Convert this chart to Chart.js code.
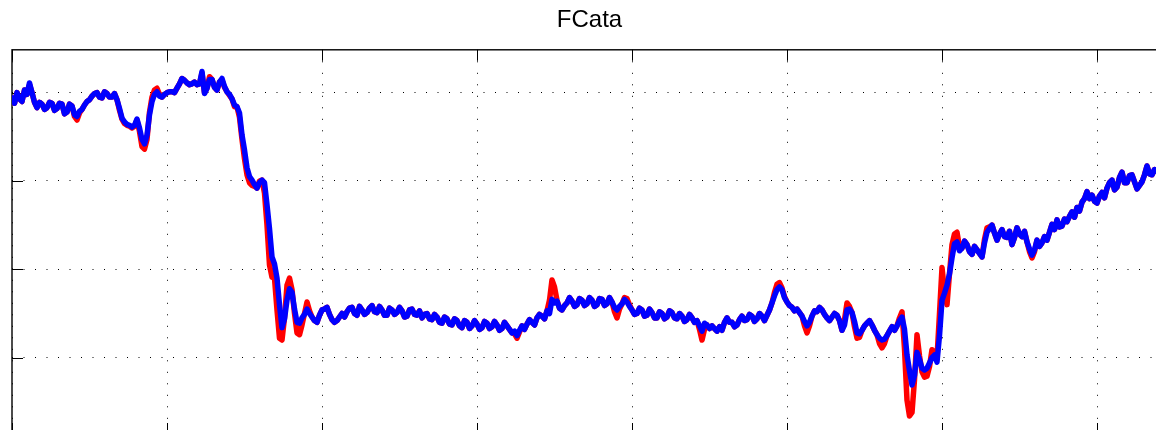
<!DOCTYPE html>
<html>
<head>
<meta charset="utf-8">
<script src="https://cdn.jsdelivr.net/npm/chart.js@4/dist/chart.umd.min.js"></script>
<style>
  html, body { margin: 0; padding: 0; background: #fff; overflow: hidden; width: 1156px; height: 430px; }
  canvas { display: block; }
</style>
</head>
<body>
<canvas id="plot" width="1180" height="440"></canvas>
<script>
// Sample index runs along x; grid every 62 samples.
const xTicks = [0, 62, 124, 186, 248, 310, 372, 434];
const yTicks = [10, 20, 30, 40];
const xRange = [0, 462];
const yRange = [1.36, 44.85];

// Measured signal (red)
const fcataMeasured = [
  39.4,38.8,40.0,39.3,39.0,40.3,39.8,40.9,40.0,38.9,38.3,38.9,38.7,38.1,38.3,38.9,38.8,38.0,38.2,38.8,
  38.7,37.6,37.8,38.7,38.5,37.3,36.9,37.7,38.1,38.6,39.0,39.2,39.6,39.9,40.0,39.5,39.4,40.1,39.9,39.5,
  39.5,39.9,39.2,38.0,37.0,36.5,36.3,36.2,36.0,36.2,36.9,35.6,33.9,33.6,34.7,37.8,39.5,40.3,40.5,39.8,
  39.5,39.8,40.0,40.1,40.1,40.0,40.5,41.0,41.6,41.4,41.1,40.9,41.0,41.2,40.9,41.0,42.2,40.0,40.5,41.8,
  41.5,40.6,40.3,41.2,41.4,40.6,40.1,39.7,39.3,38.4,38.4,37.2,34.7,32.5,30.7,29.8,29.5,29.4,29.2,30.0,
  30.1,28.6,25.0,20.5,19.1,19.0,15.4,12.2,12.0,14.5,18.2,19.0,17.7,15.0,12.8,12.6,13.7,15.0,16.3,15.3,
  14.6,14.2,14.0,14.8,15.4,15.5,15.7,14.9,14.3,14.0,14.2,14.6,15.0,14.6,15.2,15.6,15.7,15.0,14.8,15.8,
  15.4,14.9,15.1,15.6,15.9,15.2,15.1,15.8,15.4,14.8,14.8,15.6,15.4,14.9,15.1,15.7,15.3,14.6,14.7,15.4,
  15.5,14.9,14.8,15.3,14.5,14.9,15.0,14.4,14.3,14.9,14.6,14.0,13.9,14.6,14.4,13.8,13.7,14.4,14.2,13.6,
  13.4,14.2,14.0,13.3,13.6,14.2,13.8,13.2,13.4,14.1,13.9,13.3,13.5,14.1,13.7,13.1,13.3,14.0,13.6,13.2,
  12.8,12.7,12.2,12.9,13.6,13.2,13.8,14.3,14.0,13.7,14.5,14.9,14.7,14.4,15.3,16.5,18.8,18.0,16.5,15.6,
  15.4,15.9,16.2,16.8,16.4,15.8,16.0,16.7,16.5,15.9,16.1,16.8,16.5,15.8,16.0,16.7,16.6,15.9,16.1,16.8,
  16.3,15.2,14.5,15.5,16.1,16.8,16.7,16.0,15.4,14.9,15.0,15.6,15.4,14.7,14.8,15.5,15.1,14.5,14.5,15.2,
  15.0,14.4,14.6,15.3,15.1,14.5,14.4,15.0,14.7,14.1,14.3,14.9,14.5,14.0,14.2,13.2,12.0,13.2,13.7,13.3,
  13.6,13.3,13.0,13.5,13.1,14.0,14.5,14.0,14.0,13.5,13.7,14.3,14.7,14.2,14.3,14.9,14.7,14.1,14.4,15.0,
  14.7,14.2,14.8,15.4,16.2,17.4,18.3,18.5,17.9,16.9,16.3,15.9,15.7,15.3,15.5,15.1,14.7,13.6,12.8,13.6,
  14.7,15.3,15.2,15.7,15.4,14.9,14.5,14.2,14.6,15.0,14.8,14.2,13.1,14.3,16.2,15.8,15.1,13.5,12.2,12.3,
  13.1,13.6,13.9,14.2,13.7,13.1,12.6,11.6,11.1,11.6,12.5,13.0,13.5,13.1,13.6,14.5,15.2,11.0,5.2,3.4,
  3.8,7.5,12.6,10.2,8.4,7.8,7.9,9.0,10.9,10.6,10.0,15.0,20.2,17.5,16.0,19.5,22.8,24.0,24.2,22.5,
  22.4,23.2,22.8,22.0,21.7,22.6,22.2,21.8,21.4,23.4,24.7,24.8,25.0,24.1,23.3,24.0,24.5,23.7,23.6,24.3,
  22.8,23.6,24.7,24.0,23.7,24.3,23.1,22.0,21.3,22.0,23.3,22.6,23.0,23.7,23.3,24.2,25.1,24.5,25.6,24.8,
  24.9,25.7,25.4,26.0,26.5,25.9,27.0,26.6,27.6,28.0,28.8,28.0,28.4,27.7,27.5,28.3,28.7,28.1,29.2,29.8,
  30.1,29.0,29.3,30.4,31.0,29.8,29.8,30.6,30.7,29.9,29.1,29.5,29.9,30.7,31.7,30.8,30.7,31.3,31.1
];

// Model output (blue)
const fcataModel = [
  39.4,38.8,40.0,39.3,39.0,40.3,39.8,41.1,40.0,38.9,38.3,38.9,38.7,38.1,38.3,38.9,38.8,38.0,38.2,38.8,
  38.7,37.6,37.8,38.7,38.5,37.5,37.3,37.9,38.1,38.6,39.0,39.2,39.6,39.9,40.0,39.5,39.4,40.1,39.9,39.5,
  39.5,39.9,39.2,38.2,37.1,36.7,36.4,36.3,36.1,36.3,37.0,36.0,34.7,34.2,35.2,37.5,39.0,39.8,40.1,39.6,
  39.5,39.8,40.0,40.1,40.1,40.0,40.5,41.0,41.6,41.4,41.1,40.9,41.0,41.2,40.9,41.0,42.4,39.9,40.5,41.5,
  41.5,40.6,40.3,41.2,41.6,40.7,40.1,39.8,39.3,38.6,38.4,37.7,35.2,33.5,31.5,30.5,30.1,29.6,29.2,29.8,
  30.1,29.8,27.3,24.6,21.4,20.6,19.0,16.0,13.4,14.4,16.5,17.8,17.4,15.5,14.0,13.9,14.5,14.9,15.5,15.0,
  14.6,14.2,14.0,14.8,15.4,15.5,15.7,14.9,14.3,14.0,14.2,14.6,15.0,14.6,15.2,15.6,15.7,15.0,14.8,15.8,
  15.4,14.9,15.1,15.6,15.9,15.2,15.1,15.8,15.4,14.8,14.8,15.6,15.4,14.9,15.1,15.7,15.3,14.6,14.7,15.4,
  15.5,14.9,14.8,15.3,14.5,14.9,15.0,14.4,14.3,14.9,14.6,14.0,13.9,14.6,14.4,13.8,13.7,14.4,14.2,13.6,
  13.4,14.2,14.0,13.3,13.6,14.2,13.8,13.2,13.4,14.1,13.9,13.3,13.5,14.1,13.7,13.1,13.3,14.0,13.6,13.2,
  12.8,13.0,12.5,13.1,13.6,13.2,13.8,14.3,14.0,13.7,14.5,14.9,14.7,14.4,15.3,15.0,16.6,16.2,16.4,15.6,
  15.4,15.9,16.2,16.8,16.4,15.8,16.0,16.7,16.5,15.9,16.1,16.8,16.5,15.8,16.0,16.7,16.6,15.9,16.1,16.8,
  16.3,15.7,15.4,15.8,16.1,16.6,16.3,15.8,15.4,14.9,15.0,15.6,15.4,14.7,14.8,15.5,15.1,14.5,14.5,15.2,
  15.0,14.4,14.6,15.3,15.1,14.5,14.4,15.0,14.7,14.1,14.3,14.9,14.5,14.0,14.2,13.6,13.0,13.9,13.7,13.3,
  13.6,13.3,13.0,13.5,13.1,14.0,14.5,14.0,14.0,13.5,13.7,14.3,14.7,14.2,14.3,14.9,14.7,14.1,14.4,15.0,
  14.7,14.2,14.8,15.4,16.2,17.0,17.7,18.0,17.7,16.8,16.3,15.9,15.7,15.3,15.5,15.1,14.7,14.1,13.6,14.0,
  14.7,15.3,15.2,15.7,15.4,14.9,14.5,14.2,14.6,15.0,14.8,14.2,13.1,13.7,15.4,15.5,15.1,14.1,12.8,12.7,
  13.1,13.6,13.9,14.2,13.7,13.1,12.6,12.2,12.0,12.1,12.5,13.0,13.5,13.1,13.6,14.2,14.6,13.2,10.3,8.5,
  6.9,8.0,10.6,9.8,8.8,8.6,8.8,9.4,10.0,10.3,9.5,12.5,16.5,17.3,18.2,19.5,21.3,22.9,23.1,22.1,
  22.4,23.2,22.8,22.0,21.7,22.6,22.2,21.8,21.4,23.0,24.2,24.6,25.0,24.1,23.3,24.0,24.5,23.7,23.6,24.3,
  22.8,23.6,24.7,24.0,23.7,24.3,23.1,22.3,21.6,22.2,23.3,22.6,23.0,23.7,23.3,24.2,25.1,24.5,25.6,24.8,
  24.9,25.7,25.4,26.0,26.5,25.9,27.0,26.6,27.6,28.0,28.8,28.0,28.4,27.7,27.5,28.3,28.7,28.1,29.2,29.8,
  30.1,29.0,29.3,30.4,31.0,29.8,29.8,30.6,30.7,29.9,29.1,29.5,29.9,30.7,31.7,30.8,30.7,31.3,31.1
];

const samples = fcataModel.map((_, i) => i);
const toPoints = (vals) => samples.map((t, i) => ({ x: t, y: vals[i] }));

// Box frame with inward tick marks on all four sides
const boxAxes = {
  id: 'boxAxes',
  beforeDatasetsDraw(chart) {
    const { ctx, chartArea: a, scales: { x, y } } = chart;
    const len = 11;
    ctx.save();
    ctx.strokeStyle = '#000';
    ctx.lineWidth = 1;
    ctx.beginPath();
    xTicks.forEach(v => {
      const px = Math.round(x.getPixelForValue(v)) + 0.5;
      ctx.moveTo(px, a.top); ctx.lineTo(px, a.top + len);
      ctx.moveTo(px, a.bottom); ctx.lineTo(px, a.bottom - len);
    });
    yTicks.forEach(v => {
      const py = Math.round(y.getPixelForValue(v)) + 0.5;
      ctx.moveTo(a.left, py); ctx.lineTo(a.left + len, py);
      ctx.moveTo(a.right, py); ctx.lineTo(a.right - len, py);
    });
    ctx.stroke();
    ctx.lineWidth = 1.4;
    ctx.strokeRect(a.left, a.top, a.right - a.left, a.bottom - a.top);
    ctx.restore();
  }
};

const dottedGrid = { color: '#000', lineWidth: 1, drawTicks: false };
const lineStyle = { borderWidth: 5.5, pointRadius: 0, tension: 0, borderJoinStyle: 'round', borderCapStyle: 'round' };

new Chart(document.getElementById('plot'), {
  type: 'line',
  data: {
    datasets: [
      Object.assign({ label: 'model', data: toPoints(fcataModel), borderColor: '#0000ff', order: 0 }, lineStyle),
      Object.assign({ label: 'measured', data: toPoints(fcataMeasured), borderColor: '#ff0000', order: 1 }, lineStyle)
    ]
  },
  options: {
    responsive: false,
    animation: false,
    devicePixelRatio: 1,
    layout: { padding: { left: 12, right: 13, top: 0, bottom: 6 } },
    plugins: {
      legend: { display: false },
      tooltip: { enabled: false },
      title: {
        display: true,
        text: 'FCata',
        color: '#000',
        font: { family: '"Liberation Sans", Arial, sans-serif', size: 24, weight: 'normal', lineHeight: 1.2 },
        padding: { top: 6, bottom: 15 }
      }
    },
    scales: {
      x: {
        type: 'linear',
        min: xRange[0],
        max: xRange[1],
        afterBuildTicks: s => { s.ticks = xTicks.map(value => ({ value })); },
        afterFit: s => { s.height = 0; },
        ticks: { display: false },
        grid: dottedGrid,
        border: { display: false, dash: [1, 10.5] }
      },
      y: {
        type: 'linear',
        min: yRange[0],
        max: yRange[1],
        afterBuildTicks: s => { s.ticks = yTicks.map(value => ({ value })); },
        afterFit: s => { s.width = 0; },
        ticks: { display: false },
        grid: dottedGrid,
        border: { display: false, dash: [1, 10.5] }
      }
    }
  },
  plugins: [boxAxes]
});
</script>
</body>
</html>
